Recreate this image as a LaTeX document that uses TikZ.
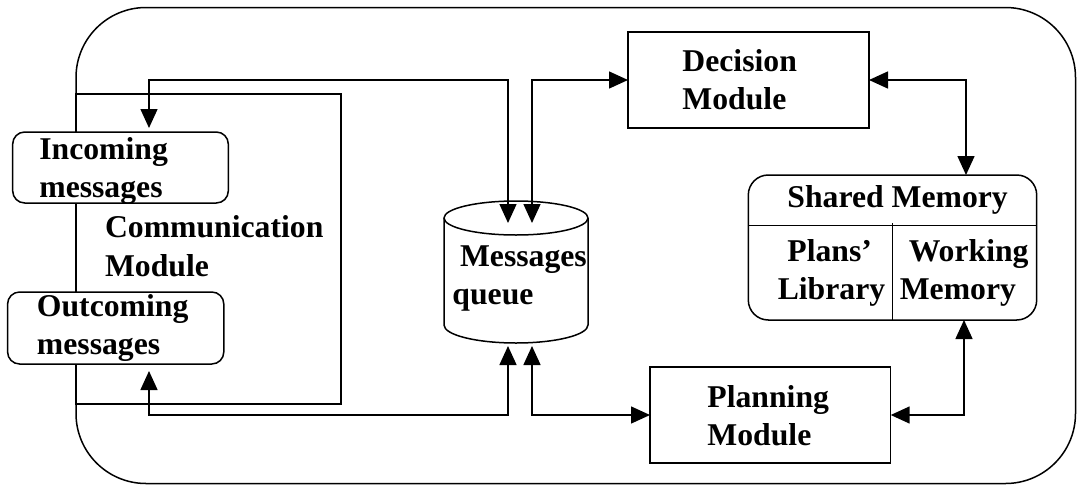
\documentclass[tikz,border=0pt]{standalone}
\usepackage{fontspec}
\setmainfont{Liberation Serif}
\usetikzlibrary{arrows.meta,calc}
\begin{document}
\begin{tikzpicture}[x=1pt,y=-1pt,line width=1.5pt,
  dbl/.style={{Triangle[length=19pt,width=17pt]}-{Triangle[length=19pt,width=17pt]}},
  box/.style={draw, fill=white, inner sep=0pt, outer sep=0pt},
  lbl/.style={anchor=base west, inner sep=0pt, font=\fontsize{31.7}{38}\selectfont\bfseries}]
\useasboundingbox (0,0) rectangle (1077,485);
% outer agent boundary
\node[draw, inner sep=0pt, outer sep=0pt, rounded corners=70pt, minimum width=999.5pt, minimum height=476pt] (agent) at (575.75,245.5) {};
% communication module frame
\node[draw, inner sep=0pt, outer sep=0pt, minimum width=265pt, minimum height=310pt] (comm) at (208.5,249) {};
% boxes
\node[box, rounded corners=12pt, minimum width=215.6pt, minimum height=71pt] (inc) at (120.5,167.5) {};
\node[box, rounded corners=12pt, minimum width=216.2pt, minimum height=72pt] (outc) at (115.7,328) {};
\node[box, minimum width=241pt, minimum height=96pt] (dec) at (748.5,80) {};
\node[box, rounded corners=20pt, minimum width=288.4pt, minimum height=145pt] (shm) at (892.5,247.5) {};
\node[box, minimum width=240.7pt, minimum height=96pt] (plan) at (770.35,415) {};
% messages queue (cylinder)
\node[inner sep=0pt, outer sep=0pt, minimum width=144pt, minimum height=142pt] (mq) at (516,272) {};
\draw (516,218) ellipse [x radius=72, y radius=17];
\draw (444,218) -- (444,325) arc[start angle=180, end angle=0, x radius=72, y radius=18] -- (588,218);
% shared memory dividers
\draw ($(shm.north west)+(0,50.7)$) -- ($(shm.north east)+(0,50.7)$);
\draw ($(shm.north)+(0,48)$) -- (shm.south);
% connectors
\draw[dbl] ($(mq.north)+(-8,22)$) |- ($(inc.north)+(28.5,-52)$) -- ($(inc.north)+(28.5,-4)$);
\draw[dbl] ($(mq.north)+(16,22)$) |- (dec.west);
\draw[dbl] (dec.east) -| ($(shm.north)+(73.5,0)$);
\draw[dbl] ($(shm.south)+(71.5,0)$) |- (plan.east);
\draw[dbl] ($(mq.south)+(16,3)$) |- (plan.west);
\draw[dbl] ($(mq.south)+(-8,3)$) |- ($(outc.south)+(33.3,51)$) -- ($(outc.south)+(33.3,7)$);
% texts
\node[lbl] (incT1) at (38.6,159) {Incoming};
\node[lbl] (incT2) at (38.6,197) {messages};
\node[lbl] (commT1) at (104.3,237.7) {Communication};
\node[lbl] (commT2) at (104.3,276) {Module};
\node[lbl] (outT1) at (36.2,316.7) {Outcoming};
\node[lbl] (outT2) at (36.2,354) {messages};
\node[lbl] (mqT1) at (459.3,266.7) {Messages};
\node[lbl] (mqT2) at (451.7,304) {queue};
\node[lbl] (decT1) at (681.7,71) {Decision};
\node[lbl] (decT2) at (681.7,109) {Module};
\node[lbl] (shmT) at (786.7,207) {Shared Memory};
\node[lbl] (plT1) at (786.7,261.7) {Plans’};
\node[lbl] (plT2) at (777,299) {Library};
\node[lbl] (wmT1) at (908,261.7) {Working};
\node[lbl] (wmT2) at (899,299) {Memory};
\node[lbl] (planT1) at (706.7,407) {Planning};
\node[lbl] (planT2) at (706.7,445) {Module};
\end{tikzpicture}
\end{document}
